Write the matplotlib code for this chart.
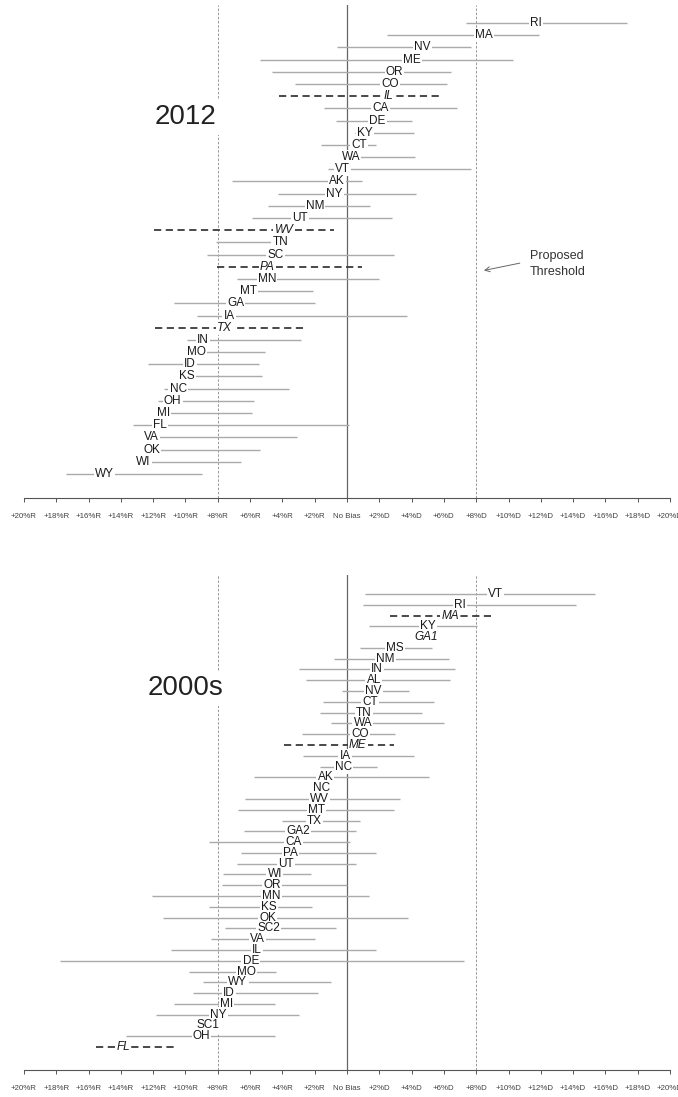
import numpy as np
import matplotlib
matplotlib.use("Agg")
import matplotlib.pyplot as plt

plt.rcParams['font.family'] = ['Liberation Sans', 'DejaVu Sans']

nan = np.nan

# ---------------- 2012 panel ----------------
top_states = ["RI", "MA", "NV", "ME", "OR", "CO", "IL", "CA", "DE", "KY", "CT", "WA",
              "VT", "AK", "NY", "NM", "UT", "WV", "TN", "SC", "PA", "MN", "MT", "GA",
              "IA", "TX", "IN", "MO", "ID", "KS", "NC", "OH", "MI", "FL", "VA", "OK",
              "WI", "WY"]
top_est = [11.7, 8.48, 4.65, 4.04, 2.94, 2.65, 2.54, 2.06, 1.87, 1.1, 0.75, 0.24,
           -0.29, -0.64, -0.78, -1.98, -2.89, -3.9, -4.12, -4.41, -4.92, -4.95, -6.12, -6.9,
           -7.3, -7.59, -8.9, -9.33, -9.71, -9.89, -10.45, -10.8, -11.36, -11.6, -12.09, -12.09,
           -12.6, -15.0]
top_lo = [7.35, 2.46, -0.61, -5.4, -4.63, -3.21, -4.2, -1.42, -0.7, 0.5, -1.6, -0.3,
          -1.18, -7.09, -4.28, -4.9, -5.9, -11.95, -8.13, -8.66, -8.07, -6.79, -6.6, -10.7,
          -9.3, -11.87, -9.92, -9.9, -12.35, -10.2, -11.34, -11.7, -11.8, -13.26, -12.5, -12.5,
          -13.0, -17.38]
top_hi = [17.35, 11.87, 7.67, 10.29, 6.42, 6.2, 5.9, 6.82, 4.01, 4.12, 1.8, 4.2,
          7.67, 0.91, 4.3, 1.44, 2.8, -0.83, -3.8, 2.89, 0.94, 2.0, -2.09, -1.98,
          3.72, -2.7, -2.86, -5.08, -5.45, -5.24, -3.58, -5.78, -5.88, 0.13, -3.07, -5.37,
          -6.58, -8.96]
top_dashed = ["IL", "WV", "PA", "TX"]
top_italic = ["IL", "WV", "PA", "TX"]

# ---------------- 2000s panel ----------------
bot_states = ["VT", "RI", "MA", "KY", "GA1", "MS", "NM", "IN", "AL", "NV", "CT", "TN",
              "WA", "CO", "ME", "IA", "NC", "AK", "NC", "WV", "MT", "TX", "GA2", "CA",
              "PA", "UT", "WI", "OR", "MN", "KS", "OK", "SC2", "VA", "IL", "DE", "MO",
              "WY", "ID", "MI", "NY", "SC1", "OH", "FL"]
bot_est = [9.2, 6.98, 6.39, 5.0, 4.92, 2.99, 2.38, 1.84, 1.66, 1.63, 1.44, 1.04,
           0.99, 0.83, 0.67, -0.11, -0.21, -1.34, -1.6, -1.71, -1.9, -2.03, -3.05, -3.32,
           -3.5, -3.77, -4.47, -4.63, -4.68, -4.84, -4.92, -4.84, -5.53, -5.59, -5.96, -6.23,
           -6.76, -7.3, -7.46, -7.97, -8.58, -9.01, -13.85]
bot_lo = [1.1, 0.99, 2.65, 1.39, nan, 0.8, -0.78, -3.0, -2.54, -0.29, -1.5, -1.66,
          -0.96, -2.78, -3.93, -2.75, -1.66, -5.78, nan, -6.31, -6.76, -4.01, -6.39, -8.56,
          -6.55, -6.82, -7.67, -7.75, -12.09, -8.53, -11.39, -7.54, -8.45, -10.9, -17.8, -9.79,
          -8.9, -9.52, -10.72, -11.82, nan, -13.69, -15.53]
bot_hi = [15.35, 14.2, 8.93, 8.07, nan, 5.24, 6.34, 6.66, 6.39, 3.85, 5.4, 4.65,
          5.99, 2.97, 2.91, 4.12, 1.84, 5.08, nan, 3.29, 2.89, 0.83, 0.56, 0.19,
          1.82, 0.56, -2.22, -0.03, 1.36, -2.14, 3.8, -0.7, -2.0, 1.82, 7.22, -4.39,
          -0.99, -1.79, -4.44, -2.97, nan, -4.47, -10.67]
bot_dashed = ["MA", "ME", "FL"]
bot_italic = ["MA", "GA1", "ME", "FL"]

tick_vals = list(range(-20, 21, 2))
tick_labels = [("+%d%%R" % -v) if v < 0 else ("No Bias" if v == 0 else "+%d%%D" % v)
               for v in tick_vals]

W, H = 678, 1097
fig = plt.figure(figsize=(W / 100, H / 100), dpi=100)


def make_axes(top_px, bot_px):
    return fig.add_axes([24 / W, 1 - bot_px / H, 646 / W, (bot_px - top_px) / H])


def draw_panel(ax, states, est, lo, hi, dashed, italic, ylim, title, title_y):
    ax.set_xlim(-20, 20)
    ax.set_ylim(*ylim)
    for s in ["top", "right", "left"]:
        ax.spines[s].set_visible(False)
    ax.spines["bottom"].set_color("#555555")
    ax.spines["bottom"].set_linewidth(0.8)
    ax.set_yticks([])
    ax.set_xticks(tick_vals)
    ax.set_xticklabels(tick_labels, fontsize=5.7, color="#444444")
    ax.tick_params(axis="x", length=3, width=0.7, color="#555555", pad=7.5)

    ax.axvline(0, color="#666666", lw=0.9, zorder=1)
    for v in (-8, 8):
        ax.axvline(v, color="#888888", lw=0.6, ls=(0, (3, 2)), zorder=1)

    for i, (s, e, l, h) in enumerate(zip(states, est, lo, hi)):
        if not (np.isnan(l) or np.isnan(h)):
            if s in dashed:
                ax.hlines(i, l, h, colors="#3a3a3a", lw=1.3,
                          linestyles=[(0, (4, 2.5))], zorder=2)
            else:
                ax.hlines(i, l, h, colors="#aaaaaa", lw=1.0, zorder=2)
        ax.text(e, i, s, ha="center", va="center", fontsize=8.5, color="#1a1a1a",
                style="italic" if s in italic else "normal", zorder=3,
                bbox=dict(boxstyle="square,pad=0.1", fc="white", ec="none"))

    ax.text(-10, title_y, title, ha="center", va="center", fontsize=20, color="#222222",
            zorder=3, bbox=dict(boxstyle="square,pad=0.15", fc="white", ec="none"))


ax1 = make_axes(5, 498)
draw_panel(ax1, top_states, top_est, top_lo, top_hi, top_dashed, top_italic,
           (38.97, -1.48), "2012", 7.75)
ax1.text(11.33, 19.75, "Proposed\nThreshold", ha="left", va="center", fontsize=9,
         color="#333333", linespacing=1.45)
ax1.annotate("", xy=(8.48, 20.3), xytext=(10.7, 19.7),
             arrowprops=dict(arrowstyle="->,head_length=0.35,head_width=0.18",
                             color="#666666", lw=0.7, shrinkA=0, shrinkB=0))

ax2 = make_axes(575, 1070)
draw_panel(ax2, bot_states, bot_est, bot_lo, bot_hi, bot_dashed, bot_italic,
           (44.13, -1.76), "2000s", 8.75)

fig.savefig("out.png", dpi=100, facecolor="white")
